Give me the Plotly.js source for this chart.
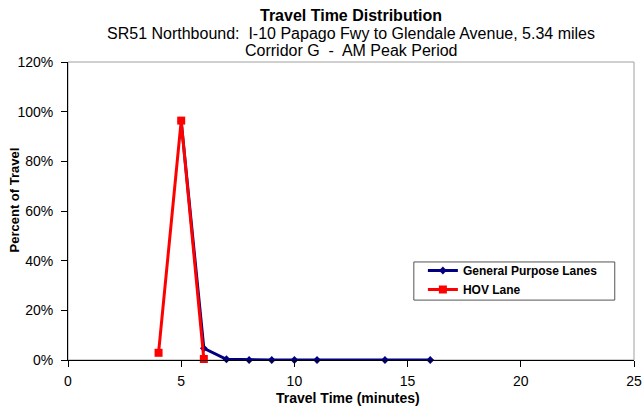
<!DOCTYPE html>
<html>
<head>
<meta charset="utf-8">
<script src="https://cdn.plot.ly/plotly-3.0.1.min.js"></script>
<style>html,body{margin:0;padding:0;background:#fff;}#chart{width:644px;height:414px;}</style>
</head>
<body>
<div id="chart"></div>
<script>
var gpTime = [5, 6, 7, 8, 9, 10, 11, 14, 16];
var gpPct = [0.96, 0.047, 0.003, 0, 0, 0, 0, 0, 0];
var hovTime = [4, 5, 6];
var hovPct = [0.029, 0.964, 0.004];
var seriesNames = ["General Purpose Lanes", "HOV Lane"];
var titleLines = ["Travel Time Distribution", "SR51 Northbound:\u00a0 I-10 Papago Fwy to Glendale Avenue, 5.34 miles", "Corridor G\u00a0 -\u00a0 AM Peak Period"];
var xTitle = "Travel Time (minutes)";
var yTitle = "Percent of Travel";

var font = "Liberation Sans, Arial, sans-serif";
var traces = [
  {x: gpTime, y: gpPct, name: seriesNames[0], type: "scatter", mode: "lines+markers",
   line: {color: "#000080", width: 3}, marker: {symbol: "diamond", size: 6, color: "#000080"}, cliponaxis: false},
  {x: hovTime, y: hovPct, name: seriesNames[1], type: "scatter", mode: "lines+markers",
   line: {color: "#FF0000", width: 3}, marker: {symbol: "square", size: 8, color: "#FF0000"}, cliponaxis: false}
];
var layout = {
  width: 644, height: 414,
  margin: {l: 68, r: 10, t: 62, b: 54},
  paper_bgcolor: "#fff", plot_bgcolor: "#fff",
  font: {family: font, color: "#000", size: 14},
  showlegend: true,
  legend: {x: 0.627, y: 0.349, xanchor: "left", yanchor: "top", bgcolor: "rgba(0,0,0,0)",
    borderwidth: 0, font: {family: font, size: 12, weight: "bold"}, tracegroupgap: 2},
  xaxis: {range: [0, 25], dtick: 5, tick0: 0, showgrid: false, zeroline: false,
    showline: true, linecolor: "#000", linewidth: 1, ticks: "outside", ticklen: 6, tickcolor: "#000",
    tickfont: {size: 14, family: font}, ticklabelstandoff: 2},
  yaxis: {range: [0, 1.2], dtick: 0.2, tick0: 0, tickformat: ".0%", showgrid: false, zeroline: false,
    showline: true, linecolor: "#000", linewidth: 1, ticks: "outside", ticklen: 6, tickcolor: "#000",
    tickfont: {size: 14, family: font}, ticklabelstandoff: 5},
  shapes: [
    {type: "rect", xref: "paper", yref: "paper", x0: 0, x1: 1, y0: 0, y1: 1,
     line: {color: "#a0a0a0", width: 1}, layer: "below"},
    {type: "rect", xref: "paper", yref: "paper", x0: 0.611, x1: 0.966, y0: 0.201, y1: 0.329,
     line: {color: "#555", width: 1}, fillcolor: "#fff", layer: "above"}
  ],
  annotations: [
    {text: "<b>" + titleLines[0] + "</b>", xref: "paper", yref: "paper", x: 0.5, y: 1, xanchor: "center", yanchor: "middle", yshift: 47, showarrow: false, font: {size: 16, family: font}},
    {text: titleLines[1], xref: "paper", yref: "paper", x: 0.5, y: 1, xanchor: "center", yanchor: "middle", yshift: 29, showarrow: false, font: {size: 16, family: font}},
    {text: titleLines[2], xref: "paper", yref: "paper", x: 0.5, y: 1, xanchor: "center", yanchor: "middle", yshift: 12, showarrow: false, font: {size: 16, family: font}},
    {text: "<b>" + xTitle + "</b>", xref: "paper", yref: "paper", x: 0.495, y: 0, xanchor: "center", yanchor: "middle", yshift: -38, showarrow: false, font: {size: 14, family: font}},
    {text: "<b>" + yTitle + "</b>", xref: "paper", yref: "paper", x: 0, y: 0.537, xanchor: "center", yanchor: "middle", xshift: -53.5, textangle: -90, showarrow: false, font: {size: 13, family: font}}
  ]
};
Plotly.newPlot("chart", traces, layout, {displayModeBar: false, staticPlot: true});
</script>
</body>
</html>
